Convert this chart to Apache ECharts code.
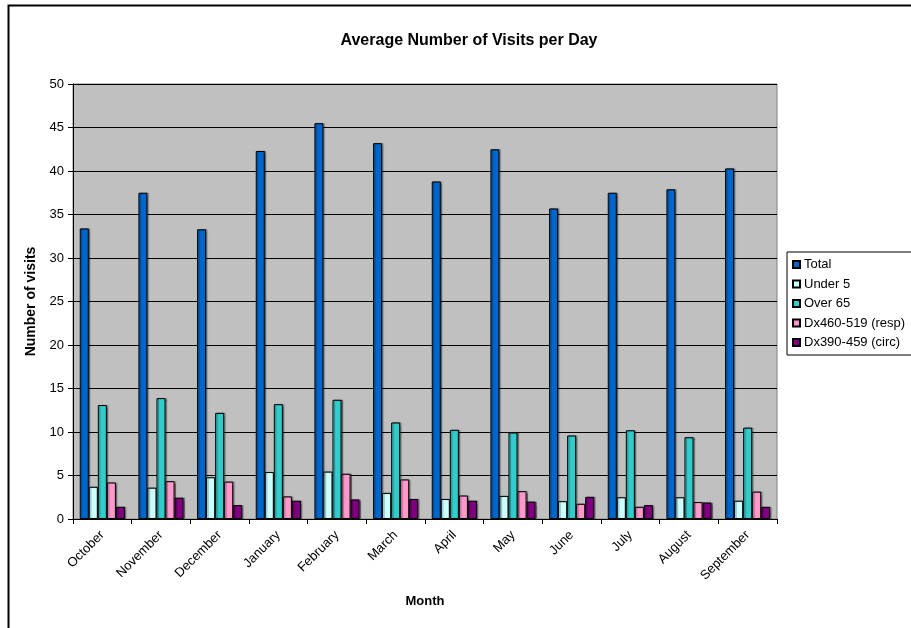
<!DOCTYPE html>
<html>
<head>
<meta charset="utf-8">
<style>
  html, body { margin: 0; padding: 0; background: #fff; }
  #chart { width: 911px; height: 628px; }
</style>
<script src="https://cdn.jsdelivr.net/npm/echarts@6/dist/echarts.min.js"></script>
</head>
<body>
<div id="chart"></div>
<script>
// Months of the reporting year
const months = ['October', 'November', 'December', 'January', 'February', 'March',
                'April', 'May', 'June', 'July', 'August', 'September'];

// Average visits per day, by group
const total      = [33.4, 37.5, 33.3, 42.3, 45.5, 43.2, 38.8, 42.5, 35.7, 37.5, 37.9, 40.3];
const under5     = [3.7, 3.6, 4.8, 5.4, 5.45, 3.0, 2.3, 2.65, 2.05, 2.5, 2.5, 2.1];
const over65     = [13.1, 13.9, 12.2, 13.2, 13.7, 11.1, 10.25, 9.95, 9.6, 10.2, 9.4, 10.5];
const dxResp     = [4.2, 4.35, 4.3, 2.6, 5.2, 4.55, 2.7, 3.2, 1.75, 1.4, 1.95, 3.15];
const dxCirc     = [1.4, 2.45, 1.6, 2.1, 2.25, 2.3, 2.1, 2.0, 2.55, 1.6, 1.9, 1.4];

const seriesNames = ['Total', 'Under 5', 'Over 65', 'Dx460-519 (resp)', 'Dx390-459 (circ)'];
const seriesData  = [total, under5, over65, dxResp, dxCirc];
const seriesColors = ['#0066CC', '#CCFFFF', '#33CCCC', '#FF99CC', '#800080'];

// Value axis ticks
const yMin = 0, yMax = 50, yStep = 5;

const FONT = '"Liberation Sans", Arial, sans-serif';

const chart = echarts.init(document.getElementById('chart'), null, { renderer: 'canvas' });

const series = seriesNames.map((name, i) => ({
  name: name,
  type: 'bar',
  data: seriesData[i],
  barGap: '0%',
  barCategoryGap: '23%',
  itemStyle: {
    color: seriesColors[i],
    borderColor: '#000',
    borderWidth: 1,
    shadowColor: 'rgba(0,0,0,0.35)',
    shadowOffsetX: 1.5,
    shadowOffsetY: 0,
    shadowBlur: 1
  },
  emphasis: { disabled: true }
}));

chart.setOption({
  animation: false,
  textStyle: { fontFamily: FONT, color: '#000' },
  title: {
    text: 'Average Number of Visits per Day',
    left: 464,
    top: 28,
    textAlign: 'center',
    textStyle: { fontFamily: FONT, fontSize: 16, fontWeight: 'bold', color: '#000' }
  },
  graphic: [{
    type: 'rect',
    shape: { x: 8.5, y: 5.5, width: 1000, height: 1000 },
    style: { fill: 'none', stroke: '#000', lineWidth: 2 },
    silent: true,
    z: -10
  }],
  legend: {
    orient: 'vertical',
    left: 787,
    top: 252,
    data: seriesNames,
    icon: 'rect',
    itemWidth: 7,
    itemHeight: 7,
    itemGap: 6.5,
    padding: [6, 20, 6, 5],
    backgroundColor: '#fff',
    borderColor: '#000',
    borderWidth: 1,
    selectedMode: false,
    textStyle: { fontFamily: FONT, fontSize: 13, color: '#000', padding: [0, 0, 0, -1] }
  },
  grid: {
    left: 73,
    right: 134,
    top: 84,
    bottom: 109,
    show: true,
    backgroundColor: '#C0C0C0',
    borderColor: '#808080',
    borderWidth: 1
  },
  xAxis: {
    type: 'category',
    data: months,
    name: 'Month',
    nameLocation: 'middle',
    nameGap: 76,
    nameTextStyle: { fontFamily: FONT, fontSize: 13, fontWeight: 'bold', color: '#000' },
    axisLine: { lineStyle: { color: '#000', width: 1 } },
    axisTick: { show: true, length: 5, lineStyle: { color: '#000' } },
    axisLabel: {
      interval: 0,
      rotate: 45,
      margin: 14,
      fontFamily: FONT,
      fontSize: 13,
      color: '#000'
    },
    splitLine: { show: false }
  },
  yAxis: {
    type: 'value',
    min: yMin,
    max: yMax,
    interval: yStep,
    name: 'Number of visits',
    nameLocation: 'middle',
    nameGap: 32,
    nameTextStyle: { fontFamily: FONT, fontSize: 14, fontWeight: 'bold', color: '#000' },
    axisLine: { show: true, lineStyle: { color: '#000', width: 1 } },
    axisTick: { show: true, length: 5, lineStyle: { color: '#000' } },
    axisLabel: { margin: 9, fontFamily: FONT, fontSize: 13, color: '#000' },
    splitLine: { show: true, lineStyle: { color: '#000', width: 1 } }
  },
  series: series
});
</script>
</body>
</html>
